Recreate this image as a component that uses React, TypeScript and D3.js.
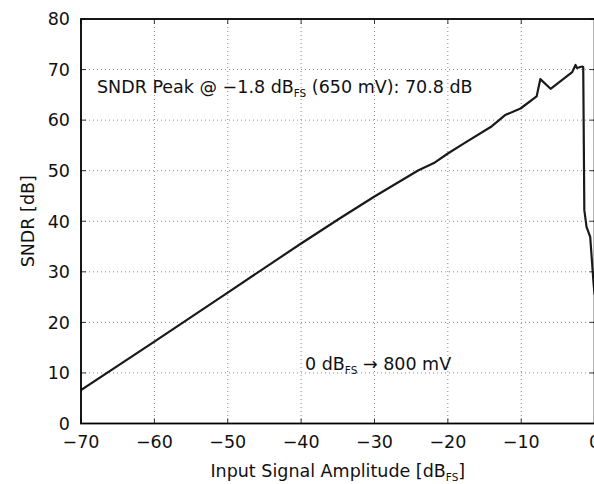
import React from "react";
import * as d3 from "d3";

const xTicks = [-70, -60, -50, -40, -30, -20, -10, 0];
const yTicks = [0, 10, 20, 30, 40, 50, 60, 70, 80];

const amplitude = [-70, -60, -50, -40, -34.7, -30, -24, -21.9, -20, -17.8, -14, -12.2, -10.1, -7.9, -7.4, -6, -3.05, -2.6, -2.4, -1.7, -1.55, -1.4, -1.1, -0.6, -0.14, 0];
const sndr = [6.6, 16.2, 25.9, 35.6, 40.6, 44.9, 50.1, 51.5, 53.4, 55.4, 58.8, 61.0, 62.3, 64.7, 68.1, 66.2, 69.5, 70.9, 70.3, 70.6, 70.5, 42.2, 38.9, 36.9, 27.7, 25.5];

const W = 594;
const H = 484;
const left = 81;
const right = 594.6;
const top = 19;
const bottom = 423.5;
const FONT = "'DejaVu Sans', sans-serif";
const FS = 17.5;
const SUB = 10.5;

const fmt = (v: number) => (v < 0 ? "\u2212" + Math.abs(v) : String(v));

export default function App() {
  const x = d3.scaleLinear().domain([-70, 0]).range([left, right]);
  const y = d3.scaleLinear().domain([0, 80]).range([bottom, top]);
  const pts = amplitude.map((a, i) => [a, sndr[i]] as [number, number]);
  const line = d3.line<[number, number]>().x((d) => x(d[0])).y((d) => y(d[1]))(pts) || "";
  const tick = 5;

  return (
    <svg width={W} height={H} style={{ position: "absolute", left: 0, top: 0, background: "#fff" }} fontFamily={FONT}>
      <defs>
        <clipPath id="plot">
          <rect x={left} y={top} width={right - left} height={bottom - top} />
        </clipPath>
      </defs>
      {/* grid */}
      {xTicks.map((t) => (
        <line key={"gx" + t} x1={x(t)} x2={x(t)} y1={top} y2={bottom} stroke="#888" strokeWidth={1} strokeDasharray="1,3" />
      ))}
      {yTicks.map((t) => (
        <line key={"gy" + t} x1={left} x2={right} y1={y(t)} y2={y(t)} stroke="#888" strokeWidth={1} strokeDasharray="1,3" />
      ))}
      {/* ticks */}
      {xTicks.map((t) => (
        <g key={"tx" + t}>
          <line x1={x(t)} x2={x(t)} y1={bottom} y2={bottom - tick} stroke="#333" strokeWidth={1} />
          <line x1={x(t)} x2={x(t)} y1={top} y2={top + tick} stroke="#333" strokeWidth={1} />
        </g>
      ))}
      {yTicks.map((t) => (
        <g key={"ty" + t}>
          <line x1={left} x2={left + tick} y1={y(t)} y2={y(t)} stroke="#333" strokeWidth={1} />
          <line x1={right} x2={right - tick} y1={y(t)} y2={y(t)} stroke="#333" strokeWidth={1} />
        </g>
      ))}
      {/* data */}
      <path d={line} fill="none" stroke="#1a1a1a" strokeWidth={2.2} strokeLinejoin="round" clipPath="url(#plot)" />
      {/* frame */}
      <rect x={left} y={top} width={right - left} height={bottom - top} fill="none" stroke="#000" strokeWidth={1.8} />
      {/* tick labels */}
      {xTicks.map((t) => (
        <text key={"lx" + t} x={x(t)} y={448} textAnchor="middle" fontSize={FS} fill="#111">
          {fmt(t)}
        </text>
      ))}
      {yTicks.map((t) => (
        <text key={"ly" + t} x={70} y={y(t)} dy="0.36em" textAnchor="end" fontSize={FS} fill="#111">
          {fmt(t)}
        </text>
      ))}
      {/* axis labels */}
      <text x={(left + right) / 2} y={477} textAnchor="middle" fontSize={FS} fill="#111">
        Input Signal Amplitude [dB
        <tspan fontSize={SUB} dy={4}>FS</tspan>
        <tspan dy={-4}>]</tspan>
      </text>
      <text transform={`translate(34, ${(top + bottom) / 2}) rotate(-90)`} textAnchor="middle" fontSize={FS} fill="#111">
        SNDR [dB]
      </text>
      {/* annotations */}
      <text x={97} y={92.5} fontSize={FS} fill="#111">
        SNDR Peak @ {"\u2212"}1.8 dB
        <tspan fontSize={SUB} dy={4}>FS</tspan>
        <tspan dy={-4}> (650 mV): 70.8 dB</tspan>
      </text>
      <text x={305} y={370} fontSize={FS} fill="#111">
        0 dB
        <tspan fontSize={SUB} dy={4}>FS</tspan>
        <tspan dy={-4}> {"\u2192"} 800 mV</tspan>
      </text>
    </svg>
  );
}
